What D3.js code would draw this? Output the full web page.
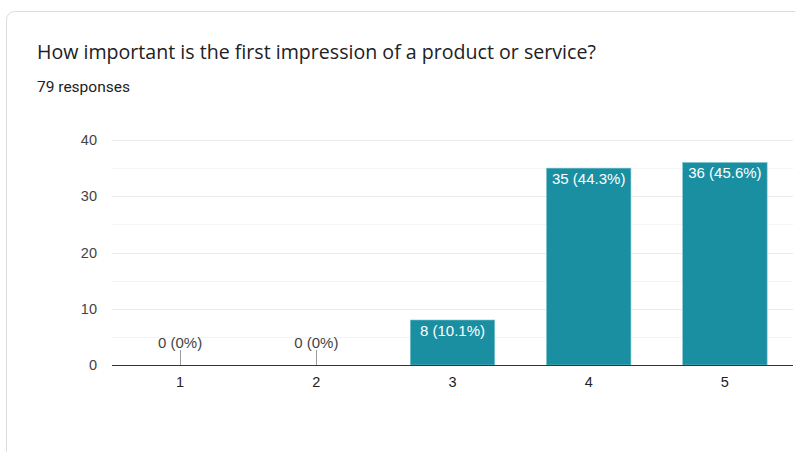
<!DOCTYPE html>
<html>
<head>
<meta charset="utf-8">
<script src="https://cdn.jsdelivr.net/npm/d3@7"></script>
<style>
  html, body { margin: 0; padding: 0; background: #fff; }
  svg { display: block; }
</style>
</head>
<body>
<svg id="chart" width="795" height="452"></svg>
<script>
// Survey answers on a 1–5 scale
const categories = ["1", "2", "3", "4", "5"];
const counts = [0, 0, 8, 35, 36];
const percents = ["0%", "0%", "10.1%", "44.3%", "45.6%"];
const yTicks = [0, 10, 20, 30, 40];
const title = "How important is the first impression of a product or service?";
const subtitle = "79 responses";

const svg = d3.select("#chart");
const labelFont = "Arial, 'Liberation Sans', sans-serif";

// Card outline
svg.append("rect")
  .attr("x", 6.5).attr("y", 11.5)
  .attr("width", 820).attr("height", 480)
  .attr("rx", 8)
  .attr("fill", "#fff")
  .attr("stroke", "#dadce0");

svg.append("text")
  .attr("x", 37).attr("y", 59)
  .attr("font-family", "'Open Sans', Roboto, sans-serif")
  .attr("font-size", 19.6)
  .attr("fill", "#202124")
  .text(title);

svg.append("text")
  .attr("x", 37).attr("y", 92)
  .attr("font-family", "Roboto, sans-serif")
  .attr("font-size", 15.5)
  .attr("fill", "#202124")
  .text(subtitle);

const plot = { left: 112, right: 793, top: 140, bottom: 365 };

const x = d3.scaleBand()
  .domain(categories)
  .range([plot.left, plot.right])
  .paddingInner(0.38)
  .paddingOuter(0.19);

const y = d3.scaleLinear()
  .domain([0, 40])
  .range([plot.bottom, plot.top]);

// Minor gridlines at half steps
const minor = d3.range(5, 40, 10);
svg.append("g").selectAll("line").data(minor).join("line")
  .attr("x1", plot.left).attr("x2", plot.right)
  .attr("y1", d => Math.round(y(d)) + 0.5).attr("y2", d => Math.round(y(d)) + 0.5)
  .attr("stroke", "#f4f4f4");

// Major gridlines
svg.append("g").selectAll("line").data(yTicks.slice(1)).join("line")
  .attr("x1", plot.left).attr("x2", plot.right)
  .attr("y1", d => Math.round(y(d)) + 0.5).attr("y2", d => Math.round(y(d)) + 0.5)
  .attr("stroke", "#ebebeb");

// Y axis labels
const yAxis = d3.axisLeft(y).tickValues(yTicks).tickSize(0).tickPadding(15);
const gy = svg.append("g").attr("transform", `translate(${plot.left},0)`).call(yAxis);
gy.select(".domain").remove();
gy.selectAll("text")
  .attr("font-family", labelFont)
  .attr("font-size", 14.5).attr("fill", "#444");

// Bars
const data = categories.map((c, i) => ({ c, v: counts[i], p: percents[i] }));
svg.append("g").selectAll("rect").data(data.filter(d => d.v > 0)).join("rect")
  .attr("x", d => x(d.c)).attr("width", x.bandwidth())
  .attr("y", d => y(d.v)).attr("height", d => y(0) - y(d.v))
  .attr("fill", "#1a8fa2")
  .attr("stroke", "#7cc1cc").attr("stroke-width", 0.6);

// Value labels
const lbl = svg.append("g")
  .attr("font-family", labelFont)
  .attr("font-size", 15)
  .attr("text-anchor", "middle");
lbl.selectAll("text.in").data(data.filter(d => d.v > 0)).join("text")
  .attr("class", "in")
  .attr("x", d => x(d.c) + x.bandwidth() / 2)
  .attr("y", d => y(d.v) + 15.5)
  .attr("fill", "#fff")
  .text(d => `${d.v} (${d.p})`);

// Zero-value leader ticks and labels
const zeros = data.filter(d => d.v === 0);
svg.append("g").selectAll("line").data(zeros).join("line")
  .attr("x1", d => Math.round(x(d.c) + x.bandwidth() / 2) + 0.5)
  .attr("x2", d => Math.round(x(d.c) + x.bandwidth() / 2) + 0.5)
  .attr("y1", y(0) - 15).attr("y2", y(0))
  .attr("stroke", "#999");
lbl.selectAll("text.out").data(zeros).join("text")
  .attr("class", "out")
  .attr("x", d => x(d.c) + x.bandwidth() / 2)
  .attr("y", y(0) - 17)
  .attr("fill", "#444")
  .text(d => `${d.v} (${d.p})`);

// X axis
const xAxis = d3.axisBottom(x).tickSize(0).tickPadding(12);
const gx = svg.append("g").attr("transform", `translate(0,${plot.bottom})`).call(xAxis);
gx.select(".domain").attr("stroke", "#333").attr("d", `M${plot.left},0.5H${plot.right}`);
gx.selectAll("text")
  .attr("font-family", labelFont)
  .attr("font-size", 14.5).attr("fill", "#222");
</script>
</body>
</html>
